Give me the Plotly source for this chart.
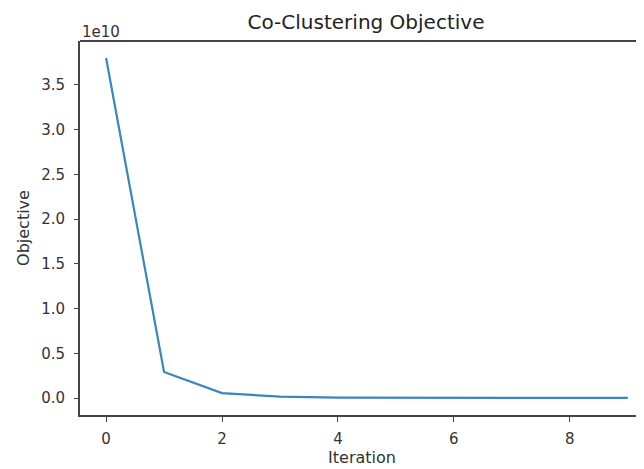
import plotly.graph_objects as go

iterations = [0, 1, 2, 3, 4, 5, 6, 7, 8, 9]
objective = [3.8e10, 0.29e10, 0.055e10, 0.015e10, 0.004e10, 0.002e10, 0.001e10, 0.001e10, 0.0008e10, 0.0005e10]

x_ticks = [0, 2, 4, 6, 8]
y_tick_vals = [0.0, 0.5e10, 1.0e10, 1.5e10, 2.0e10, 2.5e10, 3.0e10, 3.5e10]
y_tick_text = ["0.0", "0.5", "1.0", "1.5", "2.0", "2.5", "3.0", "3.5"]

font = "DejaVu Sans"
axis_color = "#444444"
W, H = 644, 469
off = 8  # page body margin offset

fig = go.Figure()
fig.add_trace(go.Scatter(x=iterations, y=objective, mode="lines",
                         line=dict(color="#3a87c0", width=2.2), showlegend=False))

fig.update_layout(
    width=W, height=H,
    margin=dict(l=80 - off, r=off, t=41 - off, b=54 + off, autoexpand=False),
    paper_bgcolor="white", plot_bgcolor="white",
    font=dict(family=font, size=15, color="#333333"),
    title=dict(text="Co-Clustering Objective", x=(366 - off) / W, xanchor="center",
               y=1 - (22 - off) / H, yanchor="middle", automargin=False,
               font=dict(size=20, color="#222222")),
    xaxis=dict(range=[-0.45, 9.28], tickvals=x_ticks, showgrid=False, zeroline=False,
               automargin=False,
               showline=True, linecolor=axis_color, linewidth=2,
               ticks="outside", ticklen=5, tickcolor=axis_color, tickwidth=1.2,
               ticklabelstandoff=4,
               title=dict(text="Iteration", standoff=0, font=dict(size=16))),
    yaxis=dict(range=[-0.19e10, 3.99e10], tickvals=y_tick_vals, ticktext=y_tick_text,
               showgrid=False, zeroline=False, automargin=False,
               showline=True, linecolor=axis_color, linewidth=2,
               ticks="outside", ticklen=4, tickcolor=axis_color, tickwidth=1.2,
               ticklabelstandoff=6,
               title=dict(text="Objective", standoff=8, font=dict(size=16))),
    shapes=[dict(type="line", xref="paper", yref="paper", x0=0, x1=1, y0=1, y1=1,
                 line=dict(color=axis_color, width=2))],
    annotations=[dict(text="1e10", xref="paper", yref="paper", x=0, y=1,
                      xanchor="left", yanchor="bottom", showarrow=False, yshift=-2,
                      font=dict(size=15, color="#333333"))],
)

fig.write_html("out.html")
